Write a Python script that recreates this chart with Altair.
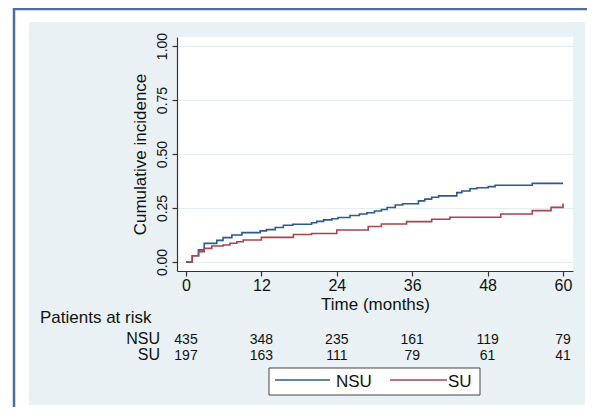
import altair as alt
import pandas as pd

# ---- data ----
groups = ["NSU", "SU"]
colors = ["#2b5b8c", "#a9434c"]

nsu_months = [0, 1.0, 2.0, 2.9, 4.9, 5.9, 7.3, 8.9, 11.8, 12.8, 14.2, 15.5, 17.0, 20.0, 20.8,
              21.9, 23.2, 24.2, 26.1, 27.6, 28.8, 30.0, 31.1, 32.0, 33.3, 34.5, 37.0, 38.0,
              39.1, 40.2, 43.1, 43.9, 45.2, 46.3, 48.1, 49.2, 55.1, 60.0]
nsu_values = [0, 0.029, 0.056, 0.086, 0.100, 0.113, 0.125, 0.136, 0.144, 0.150, 0.160, 0.170,
              0.175, 0.182, 0.188, 0.195, 0.200, 0.206, 0.215, 0.222, 0.228, 0.236, 0.243,
              0.252, 0.264, 0.270, 0.283, 0.291, 0.300, 0.306, 0.321, 0.329, 0.339, 0.344,
              0.349, 0.355, 0.364, 0.364]

su_months = [0, 1.0, 2.0, 2.9, 4.1, 5.9, 7.0, 8.1, 9.1, 12.0, 17.1, 20.0, 24.0, 29.0, 31.1,
             35.1, 39.1, 42.0, 50.1, 55.1, 58.1, 60.0]
su_values = [0, 0.029, 0.048, 0.063, 0.074, 0.079, 0.087, 0.094, 0.102, 0.114, 0.127, 0.132,
             0.148, 0.164, 0.176, 0.187, 0.198, 0.207, 0.222, 0.238, 0.253, 0.271]

tick_months = [0, 12, 24, 36, 48, 60]
nsu_at_risk = [435, 348, 235, 161, 119, 79]
su_at_risk = [197, 163, 111, 79, 61, 41]
y_ticks = [0, 0.25, 0.5, 0.75, 1.0]

row_title = "Patients at risk"
x_title = "Time (months)"
y_title = "Cumulative incidence"

curve_df = pd.DataFrame({
    "group": [groups[0]] * len(nsu_months) + [groups[1]] * len(su_months),
    "month": nsu_months + su_months,
    "value": nsu_values + su_values,
})
risk_df = pd.DataFrame({
    "group": [groups[0]] * len(tick_months) + [groups[1]] * len(tick_months),
    "month": tick_months * 2,
    "n": nsu_at_risk + su_at_risk,
})

# ---- layout ----
W, H = 396, 234
FONT = "Liberation Sans"
PANEL = "#eaf1f4"
FRAME = "#4a6f9f"
INK = "#111111"

x_scale = alt.Scale(domain=[-1.43, 61.59], nice=False, zero=False)
y_scale = alt.Scale(domain=[-0.0417, 1.0417], nice=False, zero=False)

x_axis = alt.Axis(values=tick_months, title=x_title, grid=False, tickSize=5,
                  labelFontSize=16, labelPadding=14, labelBaseline="alphabetic",
                  titleFontSize=17, titleFontWeight="normal", titleBaseline="alphabetic",
                  titleY=38, titleColor=INK, labelColor=INK, domainColor="#333333",
                  tickColor="#333333", domainWidth=1.2, tickWidth=1.2, labelFlush=False)
y_axis = alt.Axis(values=y_ticks, format=".2f", title=y_title, grid=True, gridColor="#e4eef1",
                  gridWidth=1, tickSize=5, labelFontSize=14, labelAngle=270,
                  labelAlign="center", labelBaseline="alphabetic", labelPadding=6,
                  titleFontSize=17, titleFontWeight="normal", titleAngle=270,
                  titleAlign="center", titleBaseline="alphabetic", titleX=-32, titleY=H / 2,
                  titleColor=INK, labelColor=INK, domainColor="#333333", tickColor="#333333",
                  domainWidth=1.2, tickWidth=1.2, labelFlush=False)

one = alt.Data(values=[{"k": 1}])

def rect(x, x2, y, y2, fill):
    return alt.Chart(one).mark_rect(fill=fill, stroke=None).encode(
        x=alt.value(x), x2=alt.value(x2), y=alt.value(y), y2=alt.value(y2))

def rule(x, x2, y, y2, color, w):
    return alt.Chart(one).mark_rule(color=color, strokeWidth=w).encode(
        x=alt.value(x), x2=alt.value(x2), y=alt.value(y), y2=alt.value(y2))

decor = [
    rect(-169, -148, -29, 370, "white"),
    rect(-169, 410, -29, -15, "white"),
    rect(408, 410, -29, 370, "white"),
    rect(-169, 410, 368, 370, "white"),
    rule(-163, -163, -29, 370, FRAME, 2.5),
    rule(-163, 410, -28, -28, FRAME, 2.5),
]

curves = alt.Chart(curve_df).mark_line(interpolate="step-after", strokeWidth=1.6).encode(
    x=alt.X("month:Q", scale=x_scale, axis=x_axis),
    y=alt.Y("value:Q", scale=y_scale, axis=y_axis),
    color=alt.Color("group:N", scale=alt.Scale(domain=groups, range=colors), legend=None),
)

row_y = {groups[0]: 307, groups[1]: 323}

risk_layers = []
for g in groups:
    risk_layers.append(
        alt.Chart(risk_df).transform_filter(alt.datum.group == g)
        .mark_text(fontSize=14, font=FONT, align="center", baseline="alphabetic", color=INK)
        .encode(x=alt.X("month:Q", scale=x_scale, axis=x_axis), y=alt.value(row_y[g]),
                text="n:Q")
    )
    risk_layers.append(
        alt.Chart(one).mark_text(text=g, fontSize=16, font=FONT, align="right",
                                 baseline="alphabetic", color=INK)
        .encode(x=alt.value(-17), y=alt.value(row_y[g]))
    )

row_head = alt.Chart(one).mark_text(text=row_title, fontSize=17, font=FONT, align="left",
                                    baseline="alphabetic", color=INK).encode(
    x=alt.value(-137), y=alt.value(286))

# manual legend box (Stata style)
legend = [
    alt.Chart(one).mark_rect(fill="white", stroke="#444444", strokeWidth=1).encode(
        x=alt.value(92), x2=alt.value(303), y=alt.value(331), y2=alt.value(358)),
    rule(98, 153, 343, 343, colors[0], 1.6),
    rule(213, 270, 343, 343, colors[1], 1.6),
    alt.Chart(one).mark_text(text=groups[0], fontSize=17, font=FONT, align="left",
                             baseline="alphabetic", color=INK).encode(
        x=alt.value(159), y=alt.value(350)),
    alt.Chart(one).mark_text(text=groups[1], fontSize=17, font=FONT, align="left",
                             baseline="alphabetic", color=INK).encode(
        x=alt.value(271), y=alt.value(350)),
]

chart = alt.layer(*decor, curves, *risk_layers, row_head, *legend).properties(
    width=W, height=H,
    padding={"left": 169, "top": 29, "right": 14, "bottom": 136},
    autosize=alt.AutoSizeParams(type="none"),
    background=PANEL,
).configure_view(fill="white", stroke=None).configure_axis(
    labelFont=FONT, titleFont=FONT
).configure_text(font=FONT)

chart.save("out.html", embed_options={"renderer": "svg", "actions": False})
